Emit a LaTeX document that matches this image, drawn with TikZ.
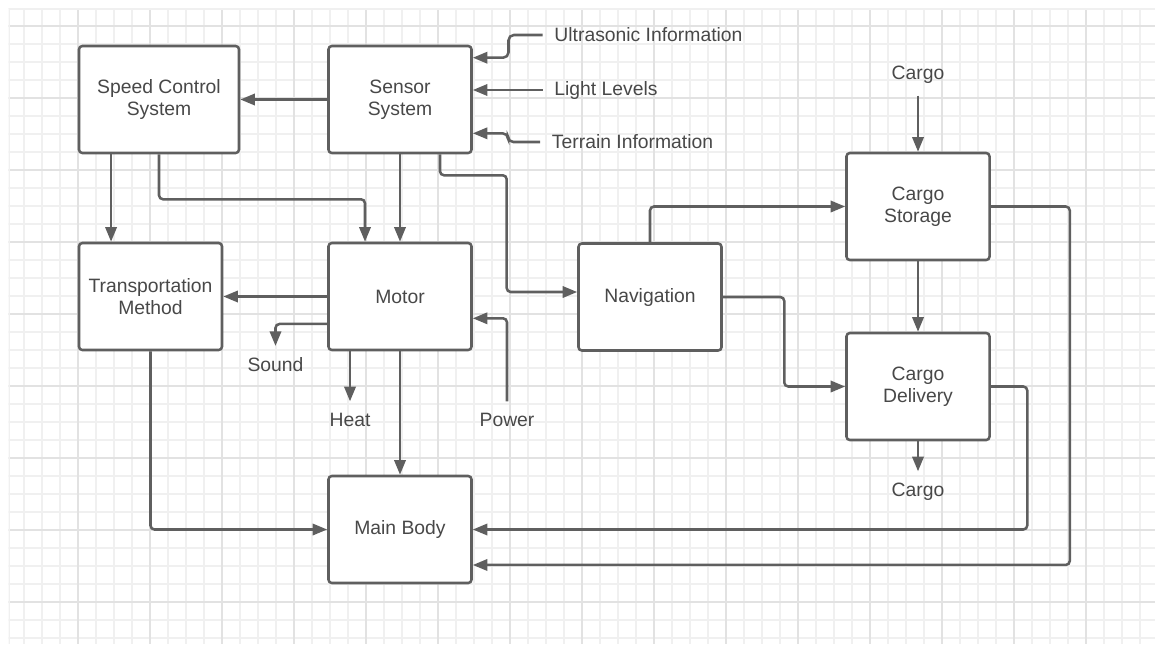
\documentclass[tikz,border=0pt]{standalone}
\usepackage{fontspec}
\setmainfont{Liberation Sans}
\usetikzlibrary{arrows.meta}

\definecolor{linegray}{RGB}{95,95,95}
\definecolor{textgray}{RGB}{72,72,72}
\definecolor{gridminor}{RGB}{240,240,240}
\definecolor{gridmajor}{RGB}{226,226,226}

\tikzset{every picture/.style={line width=1.9pt}}
\tikzset{
  blockbox/.style={draw=linegray, fill=white, rounded corners=2.5pt, minimum width=107.25pt, minimum height=80.25pt, align=center, text=textgray, inner sep=2pt},
  sigtext/.style={text=textgray, inner sep=8pt},
  flow/.style={draw=linegray, rounded corners=3pt, -{Triangle[length=11pt,width=8.5pt]}},
  softflow/.style={flow, rounded corners=4pt},
}

\begin{document}
\begin{tikzpicture}[x=0.75pt,y=0.75pt,yscale=-1,xscale=1,
  font=\fontsize{14.5pt}{16.5pt}\selectfont]
\useasboundingbox (0,0) rectangle (1155,644);

%Grid
\begin{scope}
\clip (8.5,8.5) rectangle (1155,644);
\foreach \k in {0,...,63} {
  \draw[gridminor, line width=0.9pt] (6+18*\k,0) -- (6+18*\k,644);
}
\foreach \k in {0,...,35} {
  \draw[gridminor, line width=0.9pt] (0,8+18*\k) -- (1155,8+18*\k);
}
\foreach \k in {0,...,15} {
  \draw[gridmajor, line width=0.9pt] (6+72*\k,0) -- (6+72*\k,644);
}
\foreach \k in {0,...,8} {
  \draw[gridmajor, line width=0.9pt] (0,26+72*\k) -- (1155,26+72*\k);
}
\draw[gridminor, line width=0.9pt] (9,644) -- (9,9) -- (1155,9);
\end{scope}

%Shape: Rectangle
\node[blockbox, minimum width=120pt] (speed) at (159,99.5) {Speed Control\\System};
\node[blockbox] (sensor) at (400,99.5) {Sensor\\System};
\node[blockbox] (trans) at (150.5,296.5) {Transportation\\Method};
\node[blockbox] (motor) at (400,296.5) {Motor};
\node[blockbox] (nav) at (650,297) {Navigation};
\node[blockbox] (storage) at (918,206.5) {Cargo\\Storage};
\node[blockbox] (delivery) at (918,386.5) {Cargo\\Delivery};
\node[blockbox] (mainbody) at (400,529.5) {Main Body};

% Text Node
\node[sigtext, anchor=west] (ultra) at (542.5,35) {Ultrasonic Information};
\node[sigtext, anchor=west] (light) at (542.5,90) {Light Levels};
\node[sigtext, anchor=west] (terrain) at (540,142) {Terrain Information};
\node[sigtext] (cargoin) at (918,75) {Cargo};
\node[sigtext] (cargoout) at (918,492) {Cargo};
\node[sigtext] (sound) at (275.5,365) {Sound};
\node[sigtext] (heat) at (350,420) {Heat};
\node[sigtext] (power) at (507,420) {Power};

%Straight Lines
\draw[softflow] (ultra.west) -- ++(-34,0) |- ([yshift=-31.35pt]sensor.east);
\draw[flow] (light.west) -- (light.west -| sensor.east);
\draw[softflow] (terrain.west) -- ++(-32,0) |- ([yshift=25.35pt]sensor.east);
\draw[flow] (sensor.west) -- (speed.east);
\draw[flow] ([xshift=25pt]speed.south west) -- ([xshift=25pt]speed.south west |- trans.north);
\draw[flow] (speed.south) -- ++(0,45) -| ([xshift=-26.25pt]motor.north);
\draw[flow] (sensor.south) -- (motor.north);
\draw[flow] ([xshift=30pt]sensor.south) -- ++(0,21) -- ++(66.7,0) |- ([yshift=-3.75pt]nav.west);

\draw[flow] (motor.west) -- (trans.east);
\draw[flow] ([yshift=20.6pt]motor.west) -| (sound.north);
\draw[flow] (motor.south -| heat.north) -- (heat.north);
\draw[flow] (motor.south) -- (mainbody.north);
\draw[flow] (power.north) |- ([yshift=16.35pt]motor.east);

\draw[flow] (nav.north) |- (storage.west);
\draw[flow] (nav.east) -- ++(61.5,0) |- (delivery.west);
\draw[flow] (cargoin.south) -- (storage.north);
\draw[flow] (storage.south) -- (delivery.north);
\draw[flow] (delivery.south) -- (cargoout.north);

\draw[flow] (delivery.east) -- ++(36.5,0) |- (mainbody.east);
\draw[flow] (storage.east) -- ++(79,0) |- ([yshift=26.6pt]mainbody.east);
\draw[flow] (trans.south) |- (mainbody.west);

\end{tikzpicture}
\end{document}
